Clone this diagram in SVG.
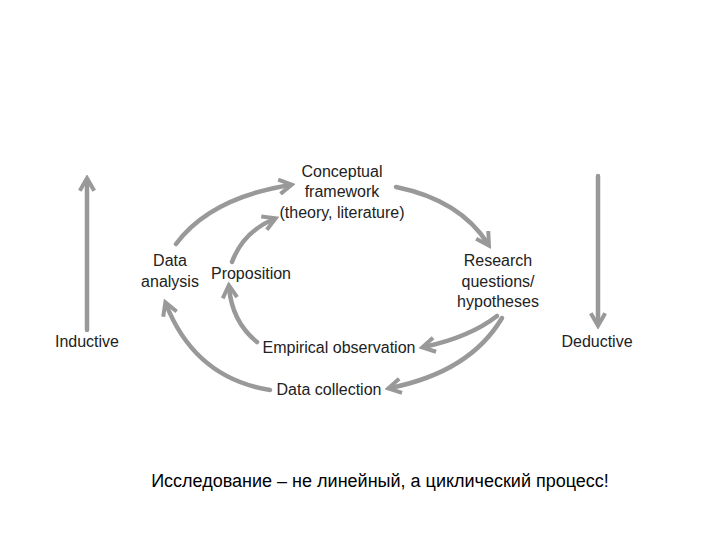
<svg xmlns="http://www.w3.org/2000/svg" width="720" height="540" viewBox="0 0 720 540">
<style>
text{font-family:"Liberation Sans",Arial,sans-serif;font-size:16px;fill:#222;text-anchor:middle}
.c{fill:none;stroke:#999;stroke-width:4.5;stroke-linecap:round}
</style>
<defs>
<marker id="a" viewBox="0 0 10 10" refX="7" refY="5" markerWidth="4" markerHeight="4" orient="auto" markerUnits="strokeWidth">
<path d="M1,1 L8,5 L1,9" fill="none" stroke="#999" stroke-width="2.2" stroke-linejoin="miter"/>
</marker>
</defs>
<rect width="720" height="540" fill="#fff"/>
<g id="connectors">
<path class="c" marker-end="url(#a)" d="M87,330 L87,180"/>
<path class="c" marker-end="url(#a)" d="M598,176 L598,324"/>
<path class="c" marker-end="url(#a)" d="M176,244 Q210,198 290,185"/>
<path class="c" marker-end="url(#a)" d="M396,187 Q460,200 488,244"/>
<path class="c" marker-end="url(#a)" d="M232,262 Q243,232 274,219"/>
<path class="c" marker-end="url(#a)" d="M497,316 Q470,337 424,347"/>
<path class="c" marker-end="url(#a)" d="M502,318 Q470,372 390,388"/>
<path class="c" marker-end="url(#a)" d="M257,342 Q232,322 229,287"/>
<path class="c" marker-end="url(#a)" d="M270,390 Q195,378 166,304"/>
</g>
<g id="conceptual"><text x="342" y="177">Conceptual</text><text x="342" y="197">framework</text><text x="342" y="218">(theory, literature)</text></g>
<g id="research"><text x="498" y="266">Research</text><text x="498" y="287">questions/</text><text x="498" y="307">hypotheses</text></g>
<g id="analysis"><text x="170" y="266">Data</text><text x="170" y="287">analysis</text></g>
<g id="proposition"><text x="251" y="279">Proposition</text></g>
<g id="empirical"><text x="339" y="353">Empirical observation</text></g>
<g id="collection"><text x="329" y="395">Data collection</text></g>
<g id="inductive"><text x="87" y="347">Inductive</text></g>
<g id="deductive"><text x="597" y="347">Deductive</text></g>
<text x="380" y="487" style="font-size:18px;fill:#000">Исследование – не линейный, а циклический процесс!</text>
</svg>
